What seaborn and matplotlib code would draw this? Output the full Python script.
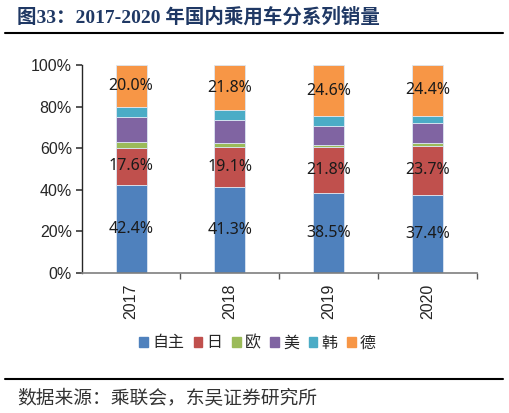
import numpy as np
import pandas as pd
import matplotlib
matplotlib.use("Agg")
import matplotlib.pyplot as plt
from matplotlib.lines import Line2D
import seaborn as sns

# 各系别销量占比（%）
years = ["2017", "2018", "2019", "2020"]
series = ["自主", "日", "欧", "美", "韩", "德"]
zizhu = [42.4, 41.3, 38.5, 37.4]
ri = [17.6, 19.1, 21.8, 23.7]
ou = [2.8, 2.0, 1.4, 1.3]
mei = [12.3, 10.9, 9.0, 9.6]
han = [4.9, 4.9, 4.7, 3.6]
de = [20.0, 21.8, 24.6, 24.4]
show_label = [True, True, False, False, False, True]

colors = ["#4f81bd", "#c0504d", "#9bbb59", "#8064a2", "#4bacc6", "#f79646"]

sns.set_theme(style="white")
plt.rcParams["font.family"] = ["Liberation Sans", "Noto Sans CJK SC", "DejaVu Sans"]

fig = plt.figure(figsize=(5.09, 4.13), dpi=100)
ax = fig.add_axes([0.1605, 0.3397, 0.776, 0.503])

values = [zizhu, ri, ou, mei, han, de]
bottom = np.zeros(len(years))
for name, vals, col, lab in zip(series, values, colors, show_label):
    df = pd.DataFrame({"year": years, "share": vals})
    sns.barplot(data=df, x="year", y="share", color=col, bottom=bottom,
                width=0.314, edgecolor="#dce6f2", linewidth=0.6, ax=ax,
                saturation=1)
    if lab:
        for i, v in enumerate(vals):
            ax.text(i, bottom[i] + v / 2, f"{v:.1f}%", ha="center", va="center",
                    fontsize=11.5, color="#1a1a1a", family=["Noto Sans", "DejaVu Sans"])
    bottom = bottom + np.array(vals)

ax.set_xlim(-0.5, 3.5)
ax.set_ylim(0, 100)
ax.set_yticks(range(0, 101, 20))
ax.set_yticklabels([f"{t}%" for t in range(0, 101, 20)], fontsize=11.5)
ax.set_xticks(range(len(years)))
ax.set_xticklabels(years, rotation=90, fontsize=11.5)
ax.set_xticks([0.5, 1.5, 2.5, 3.5], minor=True)
ax.tick_params(axis="x", which="major", length=0, pad=8)
ax.tick_params(axis="x", which="minor", length=4, direction="out", color="#595959", bottom=True)
ax.tick_params(axis="y", length=4, direction="out", color="#404040", left=True, pad=3)
ax.set_xlabel("")
ax.set_ylabel("")
for s in ["top", "right"]:
    ax.spines[s].set_visible(False)
ax.spines["left"].set_color("#262626")
ax.spines["bottom"].set_color("#7f7f7f")
ax.spines["left"].set_linewidth(1.0)
ax.spines["bottom"].set_linewidth(1.2)

handles = [plt.Rectangle((0, 0), 1, 1, color=c) for c in colors]
fig.legend(handles, series, loc="center", bbox_to_anchor=(0.506, 0.1695), ncol=6,
           frameon=False, handlelength=0.55, handleheight=0.55,
           handletextpad=0.25, columnspacing=0.6, prop={"family": ["Noto Sans CJK SC"], "size": 11.5})

fig.text(0.034, 0.958, "图33：2017-2020 年国内乘用车分系列销量", ha="left", va="center",
         fontsize=14, fontweight="bold", color="#1f3864",
         family=["Liberation Serif", "Noto Sans CJK SC"])
fig.add_artist(Line2D([0.01, 0.988], [0.920, 0.920], color="black", linewidth=1.5))
fig.add_artist(Line2D([0.01, 0.988], [0.0823, 0.0823], color="black", linewidth=1.5))
fig.text(0.034, 0.036, "数据来源：乘联会，东吴证券研究所", ha="left", va="center",
         fontsize=13.5, color="#333333", family=["Noto Sans CJK SC"])

fig.savefig("out.png", dpi=100)
